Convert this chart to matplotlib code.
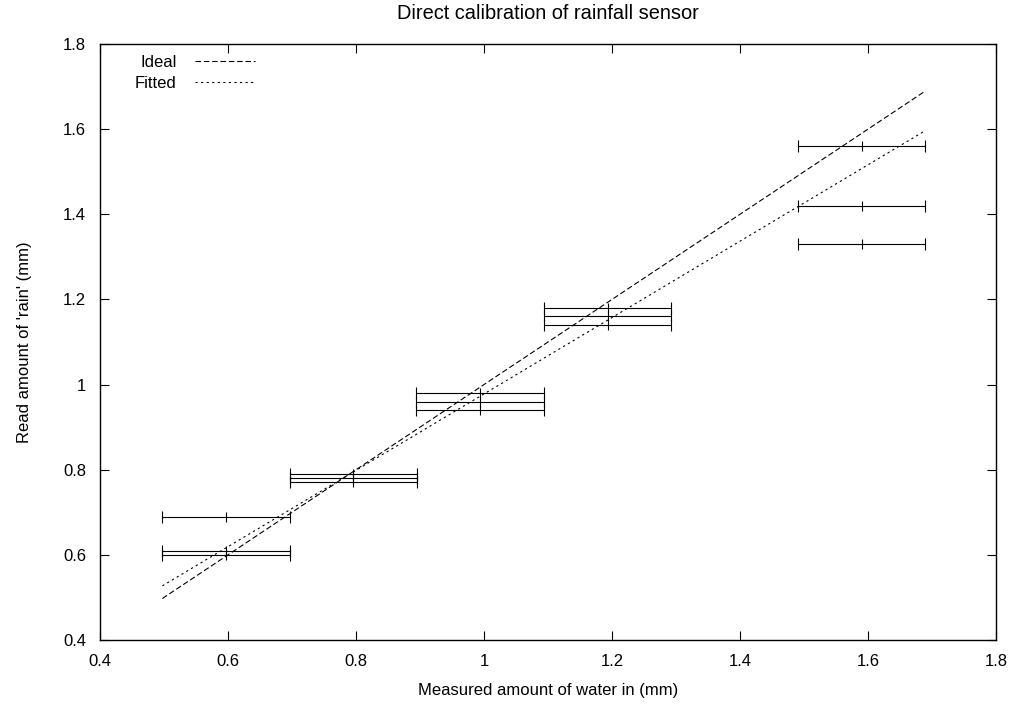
import numpy as np
import matplotlib
matplotlib.use('Agg')
import matplotlib.pyplot as plt

# measured water (mm) and the rain amounts the sensor read for each
measured = [0.597, 0.597, 0.597,
            0.796, 0.796, 0.796,
            0.994, 0.994, 0.994,
            1.193, 1.193, 1.193,
            1.590, 1.590, 1.590]
read = [0.69, 0.61, 0.60,
        0.79, 0.78, 0.77,
        0.98, 0.96, 0.94,
        1.18, 1.16, 1.14,
        1.56, 1.42, 1.33]
x_err = 0.0995

# straight lines: ideal y = x, fitted y = a*x + b
fit_a, fit_b = 0.897, 0.081
line_x = np.array([0.4975, 1.6895])

tick_vals = [0.4, 0.6, 0.8, 1.0, 1.2, 1.4, 1.6, 1.8]
tick_text = ['0.4', '0.6', '0.8', '1', '1.2', '1.4', '1.6', '1.8']

plt.rcParams['font.family'] = ['Liberation Sans', 'DejaVu Sans']
plt.rcParams['font.size'] = 12

fig = plt.figure(figsize=(10.14, 7.04), dpi=100)
ax = fig.add_axes([100 / 1014, 1 - 640 / 704, 896 / 1014, 596 / 704])

ax.plot(line_x, line_x, color='black', lw=0.8, dashes=(5, 2.5), label='Ideal')
ax.plot(line_x, fit_a * line_x + fit_b, color='black', lw=0.8, dashes=(2, 3), label='Fitted')

ax.errorbar(measured, read, xerr=x_err, fmt='none', ecolor='black',
            elinewidth=0.8, capsize=4, capthick=0.8)
ax.plot(measured, read, ls='none', marker='|', ms=7, mew=0.8, color='black')

ax.set_xlim(0.4, 1.8)
ax.set_ylim(0.4, 1.8)
ax.set_xticks(tick_vals)
ax.set_yticks(tick_vals)
ax.set_xticklabels(tick_text)
ax.set_yticklabels(tick_text)
ax.tick_params(direction='in', length=6.5, width=0.8, top=True, right=True, pad=10)
for s in ax.spines.values():
    s.set_linewidth(1.0)

ax.set_title('Direct calibration of rainfall sensor', pad=18)
ax.set_xlabel('Measured amount of water in (mm)', labelpad=10)
ax.set_ylabel("Read amount of 'rain' (mm)", labelpad=22)

ax.legend(loc='upper left', bbox_to_anchor=(0.039, 0.982), markerfirst=False,
          frameon=False, handlelength=3.6, borderaxespad=0, borderpad=0,
          labelspacing=0.35, handletextpad=1.1)

fig.savefig('out.png', dpi=100)
